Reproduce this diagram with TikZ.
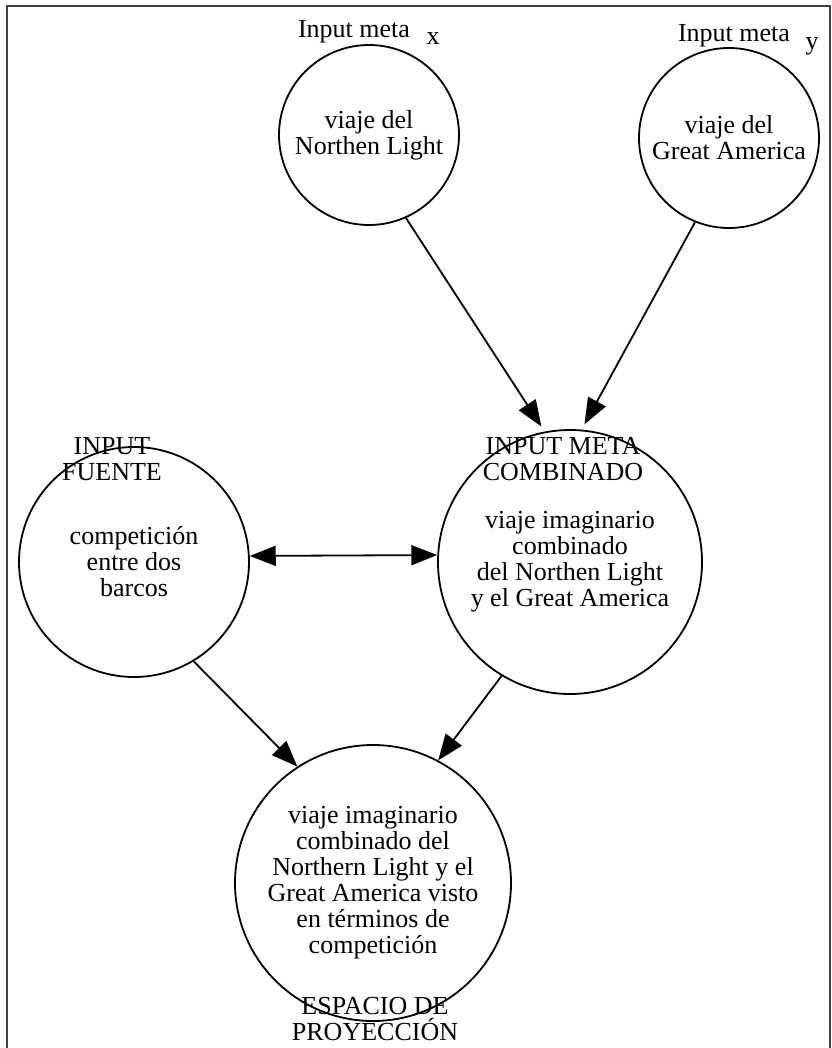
\documentclass[tikz,border=0pt]{standalone}
\usepackage{fontspec}
\setmainfont{Liberation Serif}
\usetikzlibrary{arrows.meta}

\begin{document}
\begin{tikzpicture}[x=1pt, y=-1pt]
			\tikzstyle{every node}=[font=\fontsize{26}{26}\selectfont]
			\tikzstyle{espacio}=[draw, circle, line width=1.8pt, inner sep=0pt, align=center]
			\tikzstyle{etiqueta}=[inner sep=0pt, align=center]
			\tikzstyle{flecha}=[line width=1.8pt, -{Triangle[length=26pt, width=20pt]}]
			\useasboundingbox (0, 0) rectangle (831, 1048);
			\draw[line width=2pt, black!75] (6.5, 1048)--(6.5, 6.5)--(830, 6.5)--(830, 1048);

			\node[espacio, minimum size=180pt] (NorthenLight) at (369, 135) {viaje del\\Northen Light};
			\node[anchor=base, inner sep=0pt] (MetaX) at (354, 38) {Input meta};
			\node[anchor=base, inner sep=0pt] (LetraX) at (433, 45) {x};

			\node[espacio, minimum size=180pt] (GreatAmerica) at (729, 138) {viaje del\\Great America};
			\node[anchor=base, inner sep=0pt] (MetaY) at (734, 42) {Input meta};
			\node[anchor=base, inner sep=0pt] (LetraY) at (812, 50) {y};

			\node[espacio, minimum size=230pt] (InputFuente) at (134, 562) {competición\\entre dos\\barcos};
			\node[etiqueta, anchor=north] (RotuloFuente) at (112, 437) {INPUT\\FUENTE};

			\node[espacio, minimum size=264pt] (MetaCombinado) at (570, 562) {viaje imaginario\\combinado\\del Northen Light\\y el Great America};
			\node[etiqueta, anchor=north] (RotuloCombinado) at (563, 437) {INPUT META\\COMBINADO};

			\node[espacio, minimum size=276pt] (Proyeccion) at (373, 883) {viaje imaginario\\combinado del\\Northern Light y el\\Great America visto\\en términos de\\competición};
			\node[etiqueta, anchor=north] (RotuloProyeccion) at (375, 997) {ESPACIO DE\\PROYECCIÓN};

			\draw[flecha, shorten >=6pt](NorthenLight.-66)--(MetaCombinado.101);
			\draw[flecha, shorten >=6pt](GreatAmerica.-112)--(MetaCombinado.85);
			\draw[flecha, {Triangle[length=26pt, width=20pt]}-{Triangle[length=26pt, width=20pt]}](InputFuente.3.5)--(MetaCombinado.177);
			\draw[flecha](InputFuente.-59)--(Proyeccion.123);
			\draw[flecha](MetaCombinado.-121)--(Proyeccion.62);
		\end{tikzpicture}
\end{document}
